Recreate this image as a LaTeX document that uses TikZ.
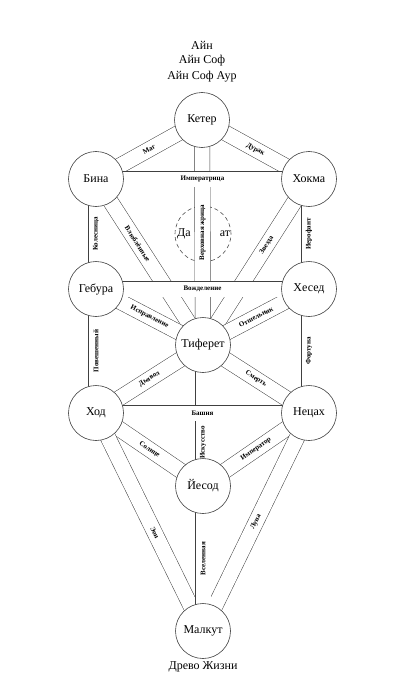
\documentclass[tikz,border=0pt]{standalone}
\usepackage{fontspec}
\setmainfont{Liberation Serif}
\usetikzlibrary{backgrounds}

\begin{document}
\begin{tikzpicture}[
    x=1pt, y=-1pt,
    sefira/.style={circle, draw=black!75, line width=0.6pt, fill=white, minimum size=55pt, inner sep=0pt, font=\fontsize{12}{14}\selectfont},
    daat/.style={circle, draw=black!70, line width=0.6pt, dash pattern=on 4pt off 3pt, minimum size=56pt, inner sep=0pt},
    band/.style={draw=black!75, line width=0.5pt, double=white, double distance=15pt},
    card/.style={font=\fontsize{7}{8}\selectfont\bfseries, inner sep=0pt},
    tilt/.style={sloped},
    vert/.style={rotate=90},
    caption/.style={font=\fontsize{12}{14}\selectfont, inner sep=0pt}
]
\useasboundingbox (0,0) rectangle (408,682);

% titles
\node[caption] (ain) at (202,45) {Айн};
\node[caption] (ainsof) at (202,61) {Айн Соф};
\node[caption] (ainsofaur) at (202,77) {Айн Соф Аур};
\node[caption] (tree) at (203,667) {Древо Жизни};

% sefirot
\node[sefira] (keter) at (202,120) {Кетер};
\node[sefira] (bina) at (96,179) {Бина};
\node[sefira] (hokhma) at (309,179) {Хокма};
\node[sefira] (geburah) at (96,289) {Гебура};
\node[sefira] (hesed) at (309,289) {Хесед};
\node[sefira] (tiferet) at (203,345) {Тиферет};
\node[sefira] (hod) at (96,413) {Ход};
\node[sefira] (netzach) at (309,413) {Нецах};
\node[sefira] (yesod) at (203,486) {Йесод};
\node[sefira] (malkut) at (203,631) {Малкут};
\node[caption] (daat-l) at (184,234) {Да};
\node[caption] (daat-r) at (225,234) {ат};

% paths
\begin{pgfonlayer}{background}
\node[daat] (daat) at (203,234) {};
\foreach \a/\b/\t/\p/\o in {
    keter/bina/Маг/0.5/tilt,
    keter/hokhma/Дурак/0.5/tilt,
    keter/tiferet/Верховная жрица/0.5/vert,
    bina/tiferet/Влюблённые/0.39/tilt,
    hokhma/tiferet/Звезда/0.4/tilt,
    bina/geburah/Колесница/0.5/vert,
    hokhma/hesed/Иерофант/0.5/vert,
    geburah/tiferet/Исправление/0.5/tilt,
    hesed/tiferet/Отшельник/0.5/tilt,
    geburah/hod/Повешенный/0.5/vert,
    hesed/netzach/Фортуна/0.5/vert,
    tiferet/hod/Дьявол/0.5/tilt,
    tiferet/netzach/Смерть/0.5/tilt,
    tiferet/yesod/Искусство/0.69/vert,
    hod/yesod/Солнце/0.5/tilt,
    netzach/yesod/Император/0.5/tilt,
    hod/malkut/Эон/0.55/tilt,
    netzach/malkut/Луна/0.5/tilt,
    yesod/malkut/Вселенная/0.5/vert,
    bina/hokhma/Императрица/0.5/tilt,
    geburah/hesed/Вожделение/0.5/tilt,
    hod/netzach/Башня/0.5/tilt}
    \draw[band] (\a.center) -- (\b.center) node[card, pos=\p, \o] {\t};
\end{pgfonlayer}
\end{tikzpicture}
\end{document}
